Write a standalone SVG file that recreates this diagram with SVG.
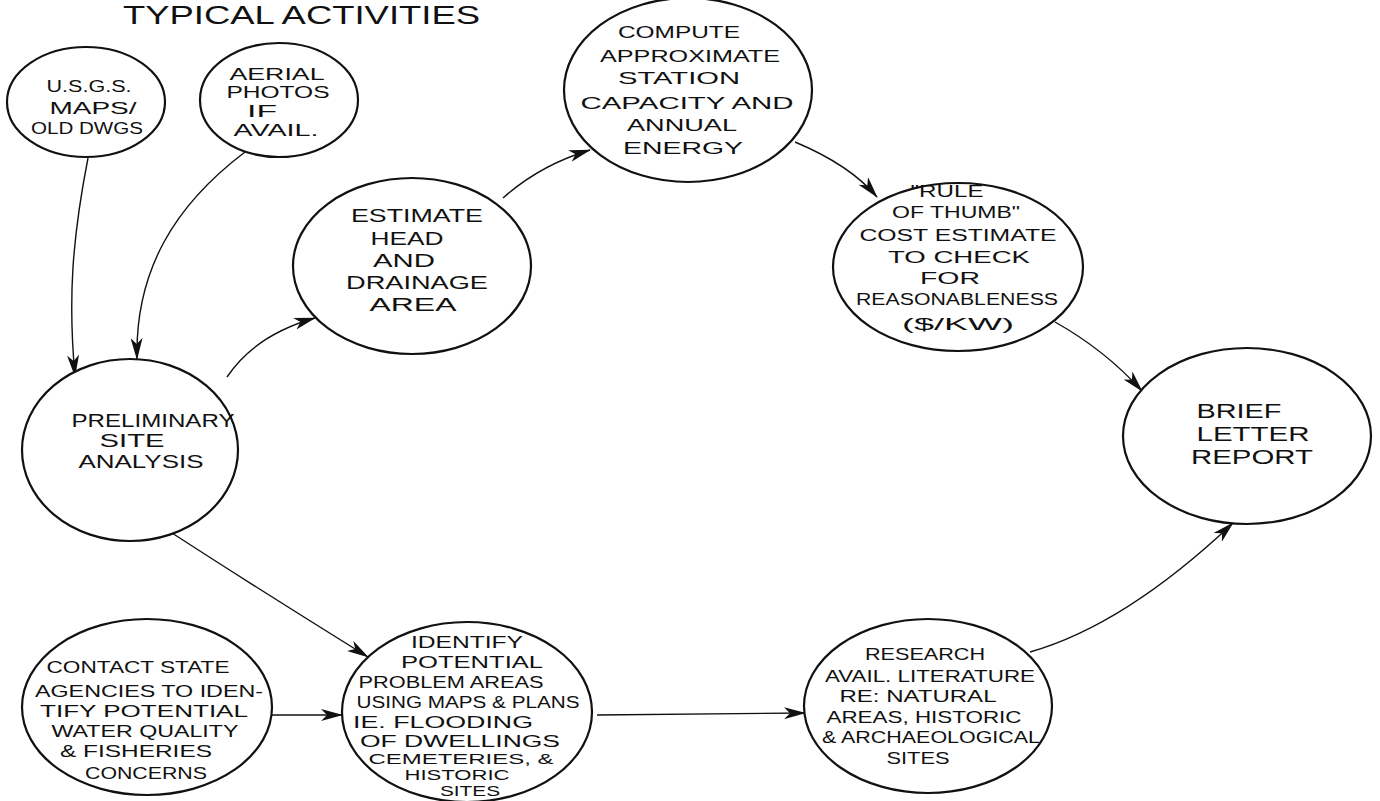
<svg xmlns="http://www.w3.org/2000/svg" width="1380" height="801" viewBox="0 0 1380 801">
<style>
.n{fill:#fff;stroke:#111;stroke-width:2.2}
.t{font-family:"Liberation Sans",Arial,sans-serif;fill:#111;text-anchor:middle}
.c{fill:none;stroke:#111;stroke-width:1.4;marker-end:url(#ah)}
</style>
<defs>
<marker id="ah" markerUnits="userSpaceOnUse" viewBox="0 0 22 12" refX="21" refY="6" markerWidth="22" markerHeight="12" orient="auto">
<path d="M0,0 L22,6 L0,12 L6,6 Z" fill="#111"/>
</marker>
</defs>
<rect width="1380" height="801" fill="#fff"/>
<text x="123" y="24" font-family="Liberation Sans,Arial,sans-serif" font-size="26" fill="#111" textLength="357" lengthAdjust="spacingAndGlyphs">TYPICAL ACTIVITIES</text>

<g id="connectors">
<path class="c" d="M88,158 C72,240 68,300 75,376"/>
<path class="c" d="M245,152 C175,205 135,270 137,359"/>
<path class="c" d="M227,377 Q255,335 315,318"/>
<path class="c" d="M503,198 Q540,165 590,150"/>
<path class="c" d="M795,142 Q850,165 877,197"/>
<path class="c" d="M1055,322 Q1105,350 1142,391"/>
<path class="c" d="M172,533 Q260,590 368,657"/>
<path class="c" d="M272,715 L342,715"/>
<path class="c" d="M597,715 L805,713"/>
<path class="c" d="M1030,652 Q1125,625 1233,523"/>
</g>

<g id="usgs">
<ellipse class="n" cx="86" cy="102" rx="79" ry="55"/>
<text class="t" font-size="16"><tspan x="89" y="92" textLength="85" lengthAdjust="spacingAndGlyphs">U.S.G.S.</tspan><tspan x="93" y="114" textLength="87" lengthAdjust="spacingAndGlyphs">MAPS/</tspan><tspan x="87" y="134" textLength="112" lengthAdjust="spacingAndGlyphs">OLD DWGS</tspan></text>
</g>

<g id="aerial">
<ellipse class="n" cx="279" cy="100" rx="79" ry="57"/>
<text class="t" font-size="16"><tspan x="277" y="80" textLength="95" lengthAdjust="spacingAndGlyphs">AERIAL</tspan><tspan x="278" y="98" textLength="103" lengthAdjust="spacingAndGlyphs">PHOTOS</tspan><tspan x="262" y="117" textLength="30" lengthAdjust="spacingAndGlyphs">IF</tspan><tspan x="276" y="136" textLength="85" lengthAdjust="spacingAndGlyphs">AVAIL.</tspan></text>
</g>

<g id="compute">
<ellipse class="n" cx="688" cy="90" rx="124" ry="92"/>
<text class="t" font-size="17"><tspan x="679" y="38" textLength="122" lengthAdjust="spacingAndGlyphs">COMPUTE</tspan><tspan x="690" y="62" textLength="180" lengthAdjust="spacingAndGlyphs">APPROXIMATE</tspan><tspan x="679" y="84" textLength="122" lengthAdjust="spacingAndGlyphs">STATION</tspan><tspan x="687" y="109" textLength="213" lengthAdjust="spacingAndGlyphs">CAPACITY AND</tspan><tspan x="682" y="131" textLength="110" lengthAdjust="spacingAndGlyphs">ANNUAL</tspan><tspan x="683" y="154" textLength="120" lengthAdjust="spacingAndGlyphs">ENERGY</tspan></text>
</g>

<g id="estimate">
<ellipse class="n" cx="412" cy="266" rx="119" ry="88"/>
<text class="t" font-size="18"><tspan x="417" y="222" textLength="132" lengthAdjust="spacingAndGlyphs">ESTIMATE</tspan><tspan x="407" y="245" textLength="73" lengthAdjust="spacingAndGlyphs">HEAD</tspan><tspan x="404" y="267" textLength="62" lengthAdjust="spacingAndGlyphs">AND</tspan><tspan x="417" y="289" textLength="142" lengthAdjust="spacingAndGlyphs">DRAINAGE</tspan><tspan x="413" y="311" textLength="87" lengthAdjust="spacingAndGlyphs">AREA</tspan></text>
</g>

<g id="rule">
<ellipse class="n" cx="958" cy="267" rx="125" ry="84"/>
<text class="t" font-size="16"><tspan x="947" y="197" textLength="73" lengthAdjust="spacingAndGlyphs">"RULE</tspan><tspan x="956" y="218" textLength="128" lengthAdjust="spacingAndGlyphs">OF THUMB"</tspan><tspan x="958" y="241" textLength="197" lengthAdjust="spacingAndGlyphs">COST ESTIMATE</tspan><tspan x="959" y="263" textLength="142" lengthAdjust="spacingAndGlyphs">TO CHECK</tspan><tspan x="950" y="284" textLength="60" lengthAdjust="spacingAndGlyphs">FOR</tspan><tspan x="957" y="305" textLength="202" lengthAdjust="spacingAndGlyphs">REASONABLENESS</tspan><tspan x="958" y="330" textLength="112" lengthAdjust="spacingAndGlyphs">($/KW)</tspan></text>
</g>

<g id="preliminary">
<ellipse class="n" cx="130" cy="450" rx="108" ry="91"/>
<text class="t" font-size="18"><tspan x="153" y="427" textLength="163" lengthAdjust="spacingAndGlyphs">PRELIMINARY</tspan><tspan x="132" y="447" textLength="65" lengthAdjust="spacingAndGlyphs">SITE</tspan><tspan x="141" y="468" textLength="125" lengthAdjust="spacingAndGlyphs">ANALYSIS</tspan></text>
</g>

<g id="brief">
<ellipse class="n" cx="1247" cy="436" rx="124" ry="88"/>
<text class="t" font-size="20"><tspan x="1239" y="418" textLength="85" lengthAdjust="spacingAndGlyphs">BRIEF</tspan><tspan x="1253" y="441" textLength="113" lengthAdjust="spacingAndGlyphs">LETTER</tspan><tspan x="1252" y="464" textLength="122" lengthAdjust="spacingAndGlyphs">REPORT</tspan></text>
</g>

<g id="contact">
<ellipse class="n" cx="147" cy="707" rx="125" ry="88"/>
<text class="t" font-size="17"><tspan x="138" y="673" textLength="183" lengthAdjust="spacingAndGlyphs">CONTACT STATE</tspan><tspan x="149" y="697" textLength="228" lengthAdjust="spacingAndGlyphs">AGENCIES TO IDEN-</tspan><tspan x="144" y="717" textLength="208" lengthAdjust="spacingAndGlyphs">TIFY POTENTIAL</tspan><tspan x="145" y="737" textLength="187" lengthAdjust="spacingAndGlyphs">WATER QUALITY</tspan><tspan x="136" y="757" textLength="152" lengthAdjust="spacingAndGlyphs">&amp; FISHERIES</tspan><tspan x="146" y="779" textLength="122" lengthAdjust="spacingAndGlyphs">CONCERNS</tspan></text>
</g>

<g id="identify">
<ellipse class="n" cx="467" cy="712" rx="125" ry="90"/>
<text class="t" font-size="16"><tspan x="467" y="648" textLength="112" lengthAdjust="spacingAndGlyphs">IDENTIFY</tspan><tspan x="472" y="668" textLength="142" lengthAdjust="spacingAndGlyphs">POTENTIAL</tspan><tspan x="451" y="688" textLength="185" lengthAdjust="spacingAndGlyphs">PROBLEM AREAS</tspan><tspan x="468" y="708" textLength="223" lengthAdjust="spacingAndGlyphs">USING MAPS &amp; PLANS</tspan><tspan x="443" y="728" textLength="180" lengthAdjust="spacingAndGlyphs">IE. FLOODING</tspan><tspan x="460" y="747" textLength="200" lengthAdjust="spacingAndGlyphs">OF DWELLINGS</tspan><tspan x="461" y="764" font-size="14" textLength="185" lengthAdjust="spacingAndGlyphs">CEMETERIES, &amp;</tspan><tspan x="457" y="780" font-size="14" textLength="105" lengthAdjust="spacingAndGlyphs">HISTORIC</tspan><tspan x="470" y="796" font-size="14" textLength="60" lengthAdjust="spacingAndGlyphs">SITES</tspan></text>
</g>

<g id="research">
<ellipse class="n" cx="928" cy="706" rx="124" ry="87"/>
<text class="t" font-size="17"><tspan x="925" y="660" textLength="120" lengthAdjust="spacingAndGlyphs">RESEARCH</tspan><tspan x="930" y="682" textLength="210" lengthAdjust="spacingAndGlyphs">AVAIL. LITERATURE</tspan><tspan x="918" y="702" textLength="157" lengthAdjust="spacingAndGlyphs">RE: NATURAL</tspan><tspan x="924" y="723" textLength="195" lengthAdjust="spacingAndGlyphs">AREAS, HISTORIC</tspan><tspan x="931" y="743" textLength="218" lengthAdjust="spacingAndGlyphs">&amp; ARCHAEOLOGICAL</tspan><tspan x="918" y="764" textLength="63" lengthAdjust="spacingAndGlyphs">SITES</tspan></text>
</g>
</svg>
